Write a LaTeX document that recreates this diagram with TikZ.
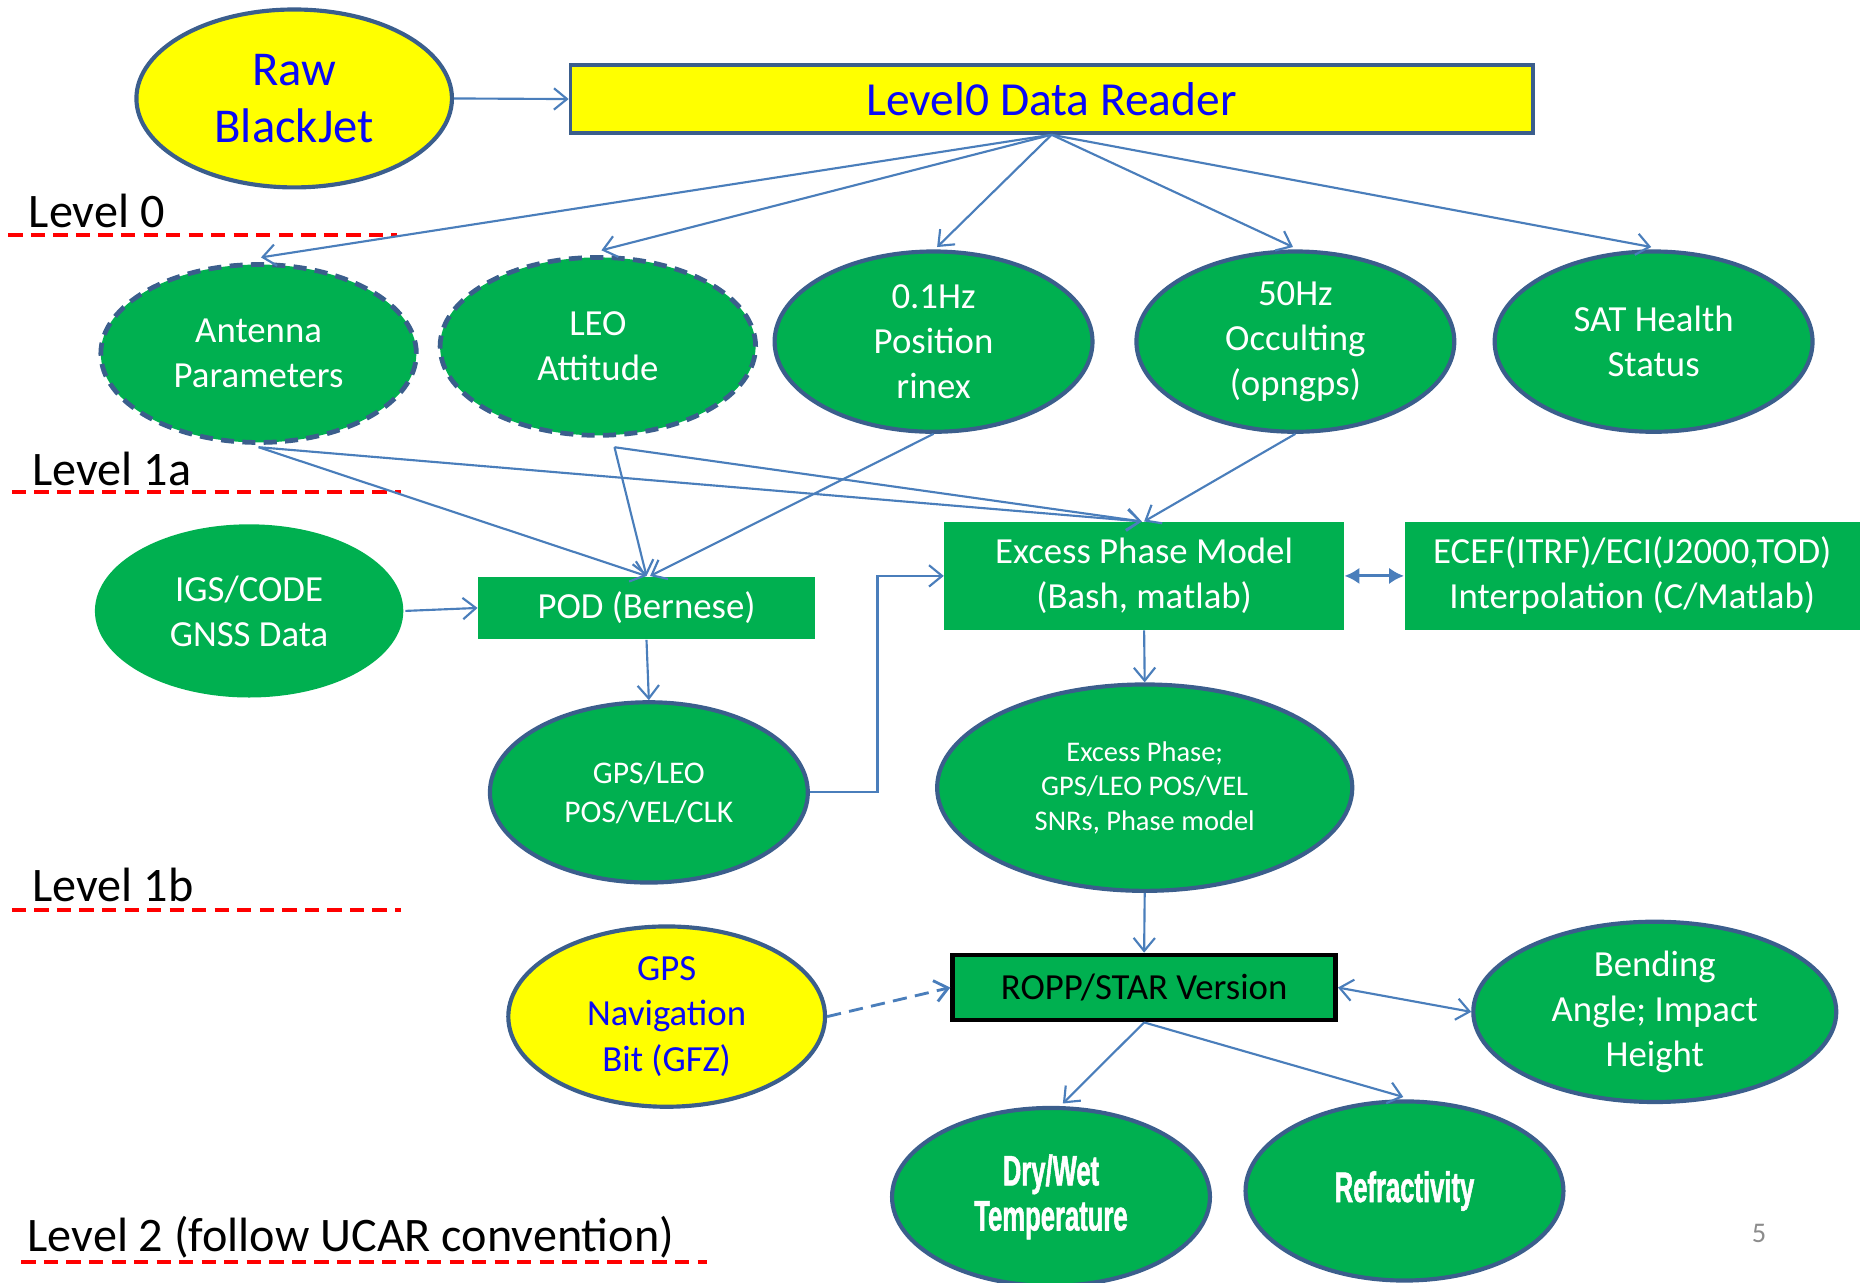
\documentclass[tikz,border=0pt]{standalone}
\usepackage{fontspec}
\setmainfont{Carlito}
\newfontfamily\condfont[FakeStretch=0.6,FakeBold=1.2]{Liberation Sans Bold}
\usetikzlibrary{shapes.geometric,arrows.meta}
\definecolor{grn}{HTML}{00B050}
\definecolor{edge}{HTML}{3B5E8C}
\definecolor{arr}{HTML}{4A7EBB}
\definecolor{txtblue}{HTML}{0A0AF5}
\definecolor{ylw}{HTML}{FFFF00}
\definecolor{lvred}{HTML}{FF0000}
\definecolor{pgnum}{HTML}{8C8C8C}
\tikzset{
  oval/.style={ellipse, inner sep=0pt, align=center, fill=grn, text=white,
    draw=edge, line width=1.75pt, font=\fontsize{15.5pt}{19pt}\selectfont},
  dashoval/.style={oval, line width=2pt, dash pattern=on 5.5pt off 3.5pt},
  yoval/.style={oval, fill=ylw, text=txtblue},
  plainoval/.style={oval, draw=none},
  gbox/.style={rectangle, inner sep=0pt, align=center, fill=grn, text=white,
    font=\fontsize{15.5pt}{19pt}\selectfont},
  conn/.style={draw=arr, line width=0.9pt, -{Straight Barb[length=5.5pt,width=9pt]}},
  lvlabel/.style={anchor=west, inner sep=0pt, font=\fontsize{20.3pt}{24pt}\selectfont},
  lvline/.style={draw=lvred, line width=1.6pt, dash pattern=on 6pt off 3.5pt},
}
\begin{document}
\begin{tikzpicture}[x=0.5pt,y=-0.5pt]
\useasboundingbox (0,0) rectangle (1568,1081);

% level separators
\node[lvlabel] (l0) at (24,178) {Level 0};
\draw[lvline] (7,198) -- (335,198);
\node[lvlabel] (l1a) at (27,395) {Level 1a};
\draw[lvline] (10,415) -- (338,415);
\node[lvlabel] (l1b) at (27,746) {Level 1b};
\draw[lvline] (10,767) -- (338,767);
\node[lvlabel] (l2) at (23,1043) {Level 2 (follow UCAR convention)};
\draw[lvline] (18,1064) -- (596,1064);

% level 0 input
\node[yoval, minimum width=133pt, minimum height=75pt,
  font=\fontsize{20.5pt}{24pt}\selectfont] (raw) at (248,83) {Raw\\BlackJet};
\node[rectangle, fill=ylw, draw=edge, line width=1.6pt, text=txtblue,
  minimum width=405.5pt, minimum height=28.5pt, inner sep=0pt,
  font=\fontsize{20pt}{24pt}\selectfont] (reader) at (886.5,83.5) {Level0 Data Reader};

% level 1a products
\node[dashoval, minimum width=133pt, minimum height=75pt] (ant) at (218,298) {Antenna\\Parameters};
\node[dashoval, minimum width=133pt, minimum height=75pt] (leo) at (504,292) {LEO\\Attitude};
\node[oval, minimum width=134pt, minimum height=76pt] (pos) at (787,288) {0.1Hz\\Position\\rinex};
\node[oval, minimum width=134pt, minimum height=76pt] (occ) at (1092,288) {50Hz\\Occulting\\(opngps)};
\node[oval, minimum width=134pt, minimum height=76pt] (sat) at (1394,288) {SAT Health\\Status};

% processing
\node[plainoval, minimum width=130pt, minimum height=73pt] (igs) at (210,515) {IGS/CODE\\GNSS Data};
\node[gbox, minimum width=142pt, minimum height=26.5pt] (pod) at (545,512.5) {POD (Bernese)};
\node[gbox, minimum width=168.5pt, minimum height=45.5pt] (epm) at (964.5,485.5) {Excess Phase Model\\(Bash, matlab)};
\node[gbox, minimum width=192pt, minimum height=45.5pt] (ecef) at (1376,485.5) {ECEF(ITRF)/ECI(J2000,TOD)\\Interpolation (C/Matlab)};
\node[oval, minimum width=134pt, minimum height=76pt,
  font=\fontsize{13.3pt}{16.5pt}\selectfont] (orb) at (547,668) {GPS/LEO\\POS/VEL/CLK};
\node[oval, minimum width=175pt, minimum height=87pt,
  font=\fontsize{12pt}{14.5pt}\selectfont] (exph) at (965,664) {Excess Phase;\\GPS/LEO POS/VEL\\SNRs, Phase model};

% level 1b / level 2
\node[rectangle, fill=grn, draw=black, line width=1.9pt, inner sep=0pt,
  minimum width=161.5pt, minimum height=27.5pt,
  font=\fontsize{15.5pt}{19pt}\selectfont] (ropp) at (964.5,832.5) {ROPP/STAR Version};
\node[yoval, minimum width=133.5pt, minimum height=76pt] (gnav) at (562,857) {GPS\\Navigation\\Bit (GFZ)};
\node[oval, minimum width=153pt, minimum height=76pt] (bend) at (1395,853) {Bending\\Angle; Impact\\Height};
\node[oval, minimum width=134pt, minimum height=75pt,
  font=\condfont\fontsize{18pt}{19pt}\selectfont] (dry) at (886,1009) {Dry/Wet\\Temperature};
\node[oval, minimum width=134pt, minimum height=75.5pt,
  font=\condfont\fontsize{18pt}{19pt}\selectfont] (refr) at (1184,1004) {Refractivity};

\node[text=pgnum, font=\fontsize{12pt}{14pt}\selectfont] (page) at (1483,1040) {5};

% connectors
\draw[conn] (raw.east) -- (reader.west);
\draw[conn] (reader.south) -- ([xshift=1pt,yshift=2pt]ant.north);
\draw[conn] (reader.south) -- ([xshift=1.5pt,yshift=2pt]leo.north);
\draw[conn] (reader.south) -- ([xshift=1.5pt,yshift=1pt]pos.north);
\draw[conn] (reader.south) -- ([xshift=-1pt,yshift=1pt]occ.north);
\draw[conn] (reader.south) -- ([xshift=-1pt,yshift=1pt]sat.north);

\draw[conn] ([yshift=-1pt]ant.south) -- (pod.north);
\draw[conn] ([yshift=-1pt]ant.south) -- ([xshift=-1pt]epm.north);
\draw[conn] ([xshift=7pt,yshift=-4pt]leo.south) -- (pod.north);
\draw[conn] ([xshift=7pt,yshift=-4pt]leo.south) -- ([xshift=-1pt]epm.north);
\draw[conn] (pos.south) -- ([xshift=1.5pt]pod.north);
\draw[conn] (occ.south) -- (epm.north);

\draw[conn] (igs.east) -- (pod.west);
\draw[conn] (pod.south) -- (orb.north);
\draw[conn] (orb.east) -- ++(57,0) |- (epm.west);
\draw[draw=arr, line width=1.3pt, {Latex[length=6.3pt,width=7pt]}-{Latex[length=6.3pt,width=7pt]}] (epm.east) -- (ecef.west);
\draw[conn] (epm.south) -- (exph.north);
\draw[conn] (exph.south) -- (ropp.north);

\draw[conn, dash pattern=on 6pt off 3.5pt, line width=1.2pt] (gnav.east) -- (ropp.west);
\draw[draw=arr, line width=0.9pt, {Straight Barb[length=5.5pt,width=9pt]}-{Straight Barb[length=5.5pt,width=9pt]}] (ropp.east) -- (bend.west);
\draw[conn] (ropp.south) -- ([xshift=5pt,yshift=1pt]dry.north);
\draw[conn] (ropp.south) -- ([xshift=-0.5pt,yshift=1pt]refr.north);
\end{tikzpicture}
\end{document}
